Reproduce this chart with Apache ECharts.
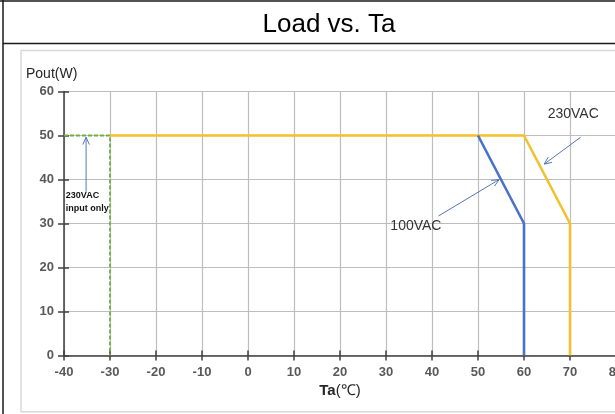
<!DOCTYPE html>
<html>
<head>
<meta charset="utf-8">
<script src="https://cdn.jsdelivr.net/npm/echarts@6/dist/echarts.min.js"></script>
<style>
  html, body { margin: 0; padding: 0; background: #fff; }
  #chart { width: 615px; height: 414px; }
</style>
</head>
<body>
<div id="chart"></div>
<script>
// Derating curves: output power (W) against ambient temperature (°C)
const taTicks = [-40, -30, -20, -10, 0, 10, 20, 30, 40, 50, 60, 70, 80];
const poutTicks = [0, 10, 20, 30, 40, 50, 60];

const curve230 = [[-30, 50], [60, 50], [70, 30], [70, 0]];
const curve100 = [[50, 50], [60, 30], [60, 0]];
const curveInputOnly = [[-40, 50], [-30, 50], [-30, 0]];

// Callouts, in data coordinates
const calloutTexts = [
  { text: '230VAC', at: [70.7, 54.9] },
  { text: '100VAC', at: [36.5, 29.3] }
];
const smallNotes = [
  { text: '230VAC', at: [-39.6, 36.3] },
  { text: 'input only', at: [-39.6, 33.5] }
];
const calloutArrows = [
  { from: [72.3, 49.6], to: [64.4, 43.5] },
  { from: [41.4, 31.7], to: [54.6, 40.0] },
  { from: [-35.2, 37.2], to: [-35.2, 49.6] }
];

const FONT = 'Arial, "Liberation Sans", sans-serif';
const chart = echarts.init(document.getElementById('chart'), null, { renderer: 'canvas' });

const xMin = taTicks[0], xMax = taTicks[taTicks.length - 1];
const yMin = poutTicks[0], yMax = poutTicks[poutTicks.length - 1];

const axisLabelStyle = { color: '#595959', fontWeight: 'bold', fontSize: 13, fontFamily: FONT };

chart.setOption({
  animation: false,
  title: {
    text: 'Load vs. Ta',
    left: 324,
    top: 7,
    textAlign: 'center',
    textStyle: { fontSize: 26, fontWeight: 'normal', color: '#000', fontFamily: FONT }
  },
  grid: { left: 64, top: 91.5, width: 552, height: 264, outerBoundsMode: 'none', containLabel: false },
  xAxis: [{
    type: 'value', min: xMin, max: xMax, interval: 10,
    name: '{b|Ta}{n|(℃)}', nameLocation: 'middle', nameGap: 25,
    nameTextStyle: {
      rich: {
        b: { fontWeight: 'bold', fontSize: 15, color: '#262626', fontFamily: FONT },
        n: { fontSize: 15, color: '#262626', fontFamily: FONT }
      }
    },
    axisLine: { show: true, onZero: false, lineStyle: { color: '#404040', width: 1.5 } },
    axisTick: { show: true, length: 5, lineStyle: { color: '#404040', width: 1.5 } },
    axisLabel: Object.assign({ margin: 10, showMaxLabel: true }, axisLabelStyle),
    splitLine: { show: true, lineStyle: { color: '#bdbdbd', width: 1.2 } }
  }, {
    type: 'value', min: xMin, max: xMax, interval: 10, position: 'bottom',
    axisLine: { show: false, onZero: false },
    axisTick: { show: true, inside: true, length: 5, lineStyle: { color: '#404040', width: 1.5 } },
    axisLabel: { show: false },
    splitLine: { show: false }
  }],
  yAxis: [{
    type: 'value', min: yMin, max: yMax, interval: 10,
    axisLine: { show: true, onZero: false, lineStyle: { color: '#404040', width: 1.5 } },
    axisTick: { show: true, length: 6, lineStyle: { color: '#404040', width: 1.5 } },
    axisLabel: Object.assign({ margin: 10 }, axisLabelStyle),
    splitLine: { show: true, lineStyle: { color: '#bdbdbd', width: 1.2 } }
  }, {
    type: 'value', min: yMin, max: yMax, interval: 10, position: 'left',
    axisLine: { show: false, onZero: false },
    axisTick: { show: true, inside: true, length: 5, lineStyle: { color: '#404040', width: 1.5 } },
    axisLabel: { show: false },
    splitLine: { show: false }
  }],
  series: [
    {
      name: '230VAC input only', type: 'line', data: curveInputOnly,
      symbol: 'none', z: 3,
      lineStyle: { color: '#6fb043', width: 1.8, type: [4, 2] }
    },
    {
      name: '230VAC', type: 'line', data: curve230,
      symbol: 'none', z: 4,
      lineStyle: { color: '#f2c12e', width: 2.6 }
    },
    {
      name: '100VAC', type: 'line', data: curve100,
      symbol: 'none', z: 5,
      lineStyle: { color: '#4a72c8', width: 2.6 }
    }
  ]
});

// Frame, axis title and callouts drawn as graphics
const px = p => chart.convertToPixel({ xAxisIndex: 0, yAxisIndex: 0 }, p);
const graphics = [
  { type: 'line', shape: { x1: 0, y1: 1, x2: 615, y2: 1 }, style: { stroke: '#1a1a1a', lineWidth: 1.5 }, silent: true },
  { type: 'line', shape: { x1: 3, y1: 0, x2: 3, y2: 414 }, style: { stroke: '#1a1a1a', lineWidth: 1.5 }, silent: true },
  { type: 'line', shape: { x1: 3, y1: 43.5, x2: 615, y2: 43.5 }, style: { stroke: '#1a1a1a', lineWidth: 1.5 }, silent: true },
  { type: 'polyline', shape: { points: [[615, 50.5], [21, 50.5], [21, 411.8], [615, 411.8]] }, style: { stroke: '#d9d9d9', lineWidth: 1.5, fill: null }, silent: true },
  { type: 'text', left: 26, top: 67, style: { text: 'Pout(W)', font: '14px ' + FONT, fill: '#262626' }, silent: true }
];

calloutTexts.forEach(c => {
  const p = px(c.at);
  graphics.push({ type: 'text', x: p[0], y: p[1], style: { text: c.text, font: '14px ' + FONT, fill: '#333', align: 'center', verticalAlign: 'middle' }, silent: true });
});
smallNotes.forEach(c => {
  const p = px(c.at);
  graphics.push({ type: 'text', x: p[0], y: p[1], style: { text: c.text, font: 'bold 9px ' + FONT, fill: '#111', align: 'left', verticalAlign: 'middle' }, silent: true });
});
calloutArrows.forEach(a => {
  const p1 = px(a.from), p2 = px(a.to);
  const ang = Math.atan2(p2[1] - p1[1], p2[0] - p1[0]);
  const hl = 8, spread = 0.42;
  const h1 = [p2[0] - hl * Math.cos(ang - spread), p2[1] - hl * Math.sin(ang - spread)];
  const h2 = [p2[0] - hl * Math.cos(ang + spread), p2[1] - hl * Math.sin(ang + spread)];
  graphics.push({ type: 'line', shape: { x1: p1[0], y1: p1[1], x2: p2[0], y2: p2[1] }, style: { stroke: '#5575b8', lineWidth: 1 }, z: 10, silent: true });
  graphics.push({ type: 'polyline', shape: { points: [h1, p2, h2] }, style: { stroke: '#5575b8', lineWidth: 1, fill: null }, z: 10, silent: true });
});

chart.setOption({ graphic: graphics });
</script>
</body>
</html>
